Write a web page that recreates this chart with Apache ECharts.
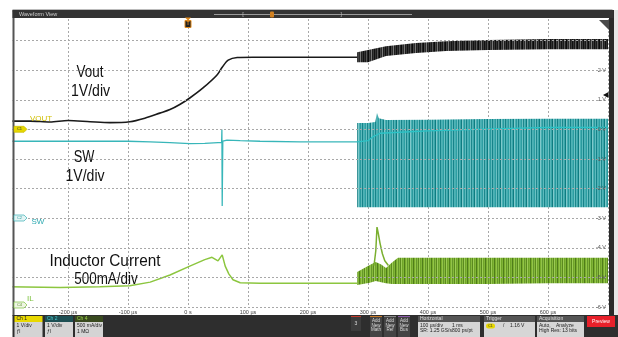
<!DOCTYPE html>
<html>
<head>
<meta charset="utf-8">
<script src="https://cdn.jsdelivr.net/npm/echarts@6/dist/echarts.min.js"></script>
<style>html,body{margin:0;padding:0;background:#fff}#c{width:618px;height:337px}</style>
</head>
<body>
<div id="c"></div>
<script>
// ---- time axis (µs) ----
const timeTicks = [-300,-200,-100,0,100,200,300,400,500,600,700];
const voltTicks = [-6,-5,-4,-3,-2,-1,0,1,2,3,4];

// ---- Ch1 Vout (V) ----
const voutT = [-300,-263,-230,-200,-163,-130,-97,-72,-47,-30,-13,3,25,48,57,67,82,108,187,282];
const voutV = [0.28,0.28,0.25,0.30,0.26,0.23,0.26,0.38,0.55,0.67,0.85,1.06,1.40,1.83,2.10,2.34,2.43,2.44,2.44,2.44];
const voutBandT  = [282,300,330,380,430,500,600,700];
const voutBandHi = [2.61,2.68,2.81,2.92,2.98,3.02,3.05,3.05];
const voutBandLo = [2.27,2.27,2.48,2.58,2.65,2.68,2.71,2.71];

// ---- Ch2 SW (V) ----
const swT = [-300,-100,-63,-30,3,28,50,56,56.5,57,58,65,87,120,187,282];
const swV = [2.60,2.60,2.58,2.55,2.52,2.53,2.55,2.55,3.00,0.41,2.60,2.64,2.62,2.60,2.58,2.58];
const swBandT  = [282,300,312,315,318,330,400,500,600,700];
const swBandHi = [3.22,3.22,3.25,3.55,3.38,3.32,3.33,3.35,3.36,3.36];
const swBandLo = [0.37,0.37,0.37,0.37,0.37,0.37,0.37,0.37,0.37,0.37];
const swMidT = [282,300,308,320,400,480,600,700];
const swMidV = [2.58,2.62,2.75,2.87,2.95,3.00,3.07,3.07];

// ---- Ch4 IL (A) ----
const ilT = [-300,-213,-147,-97,-63,-30,3,28,40,50,57,62,68,75,87,120,187,282];
const ilA = [0.34,0.33,0.34,0.36,0.42,0.54,0.69,0.80,0.84,0.78,0.88,0.69,0.56,0.46,0.41,0.40,0.40,0.40];
const ilBandT  = [282,303,313,322,330,340,350,400,500,600,700];
const ilBandHi = [0.59,0.71,0.76,0.72,0.66,0.75,0.83,0.83,0.83,0.83,0.83];
const ilBandLo = [0.37,0.41,0.44,0.42,0.40,0.39,0.39,0.39,0.39,0.40,0.40];
const ilSpikeT = [310,313,315,317,320,324,328,334];
const ilSpikeA = [0.70,0.95,1.35,1.25,1.08,0.90,0.78,0.70];

function pairs(T, V){ return T.map((t,i)=>[t, V[i]]); }
function stripes(colors){
  const c = document.createElement('canvas');
  c.width = colors.length; c.height = 4;
  const g = c.getContext('2d');
  colors.forEach((col,i)=>{ g.fillStyle = col; g.fillRect(i,0,1,4); });
  return c;
}
const tealPat  = {image: stripes(['#46aeb2','#2d9ea2','#6cc0c3','#1c878c','#55b5b8','#3aa6aa','#0f7c81','#7fc9cb','#48afb3','#2a9a9e','#5dbabd','#16838a','#4fb2b5']), repeat:'repeat'};
const blackPat = {image: stripes(['#111','#333','#1a1a1a','#555','#222','#0a0a0a','#444','#2a2a2a','#777','#1e1e1e','#3a3a3a']), repeat:'repeat'};
const greenPat = {image: stripes(['#78ac2c','#93c449','#66982a','#86b93b','#5b8a1f','#9ccb55','#70a528','#80b437','#4f7d1a']), repeat:'repeat'};

function band(T, hi, lo, yIdx, fill, z){
  return {
    type:'custom', xAxisIndex:0, yAxisIndex:yIdx, z:z, silent:true, clip:true,
    data:[[T[0], lo[0]]],
    renderItem:(params, api)=>{
      const pts = [];
      for (let i=0;i<T.length;i++) pts.push(api.coord([T[i], hi[i]]));
      for (let i=T.length-1;i>=0;i--) pts.push(api.coord([T[i], lo[i]]));
      return {type:'polygon', shape:{points:pts}, style:{fill:fill}};
    }
  };
}
function line(T, V, yIdx, color, w, z, smooth){
  return {type:'line', xAxisIndex:0, yAxisIndex:yIdx, data:pairs(T,V), showSymbol:false, symbol:'none',
    smooth:smooth||false, z:z, lineStyle:{color:color, width:w}, silent:true};
}

const chart = echarts.init(document.getElementById('c'), null, {renderer:'canvas'});
const F = 'Liberation Sans';
const small = {fontFamily:F, fontSize:5, fill:'#222'};
const g = [];
// masks & frame
g.push({type:'rect', shape:{x:0,y:0,width:12.5,height:337}, style:{fill:'#fff'}, z:50});
g.push({type:'rect', shape:{x:0,y:0,width:618,height:9.5}, style:{fill:'#fff'}, z:50});
g.push({type:'rect', shape:{x:12.5,y:9,width:600,height:1}, style:{fill:'#bbb'}, z:51});
g.push({type:'rect', shape:{x:12.5,y:10,width:2,height:306}, style:{fill:'#555'}, z:51});
g.push({type:'rect', shape:{x:609,y:10,width:5,height:306}, style:{fill:'#2a2a2a'}, z:51});
g.push({type:'rect', shape:{x:614,y:10,width:4,height:306}, style:{fill:'#e6e6e6'}, z:51});
// header
g.push({type:'rect', shape:{x:12.5,y:10,width:601,height:8}, style:{fill:'#333'}, z:52});
g.push({type:'text', x:19, y:14, style:{text:'Waveform View', fontFamily:F, fontSize:5.5, fill:'#cfcfcf', verticalAlign:'middle'}, z:53});
g.push({type:'line', shape:{x1:214,y1:14.5,x2:412,y2:14.5}, style:{stroke:'#9a9a9a', lineWidth:1}, z:53});
g.push({type:'text', x:243, y:14.5, style:{text:'[', fontFamily:F, fontSize:6, fill:'#bbb', align:'center', verticalAlign:'middle'}, z:53});
g.push({type:'text', x:341, y:14.5, style:{text:']', fontFamily:F, fontSize:6, fill:'#bbb', align:'center', verticalAlign:'middle'}, z:53});
g.push({type:'rect', shape:{x:270,y:11.5,width:4,height:6,r:1}, style:{fill:'#d08020'}, z:53});
// trigger T marker
g.push({type:'polygon', shape:{points:[[185,17.5],[191,17.5],[188,20.5]]}, style:{fill:'#e08a1e'}, z:53});
g.push({type:'rect', shape:{x:185,y:20.5,width:6,height:7}, style:{fill:'#222', stroke:'#e08a1e', lineWidth:1}, z:53});
g.push({type:'text', x:188, y:24, style:{text:'T', fontFamily:F, fontSize:5, fontWeight:'bold', fill:'#e08a1e', align:'center', verticalAlign:'middle'}, z:54});
// top right flag
g.push({type:'polygon', shape:{points:[[599,20],[609,20],[609,30]]}, style:{fill:'#4a4a4a'}, z:53});
// trigger level arrow
g.push({type:'polygon', shape:{points:[[603,95],[608.5,92],[608.5,98]]}, style:{fill:'#111'}, z:53});
// channel badges
function badge(y, fill, stroke, txt, tcol){
  g.push({type:'polygon', shape:{points:[[14,y-3],[24,y-3],[27,y],[24,y+3],[14,y+3]]}, style:{fill:fill, stroke:stroke, lineWidth:0.7}, z:53});
  g.push({type:'text', x:19.5, y:y, style:{text:txt, fontFamily:F, fontSize:4, fill:tcol, align:'center', verticalAlign:'middle'}, z:54});
}
badge(129.3, '#e6d700', '#c9bb00', 'C1', '#333');
badge(218, '#e3f4f4', '#3ab0b4', 'C2', '#2a9ca0');
badge(305, '#eef5e3', '#7cc13e', 'C4', '#5a8f2a');
g.push({type:'text', x:30, y:119, style:{text:'VOUT', fontFamily:F, fontSize:8, fill:'#d0bf00', verticalAlign:'middle'}, z:53});
g.push({type:'text', x:31.5, y:221.5, style:{text:'SW', fontFamily:F, fontSize:8, fill:'#2aa8b0', verticalAlign:'middle'}, z:53});
g.push({type:'text', x:27, y:299, style:{text:'IL', fontFamily:F, fontSize:8, fill:'#7cc13e', verticalAlign:'middle'}, z:53});
// annotations
function ann(x, y, t, sx){ g.push({type:'text', x:x, y:y, scaleX:sx, style:{text:t, fontFamily:F, fontSize:16, fill:'#111', align:'center', verticalAlign:'middle'}, z:55}); }
ann(90, 72.5, 'Vout', 0.84); ann(90.5, 91.5, '1V/div', 0.88);
ann(84, 158, 'SW', 0.8); ann(85, 176.5, '1V/div', 0.88);
ann(105, 262, 'Inductor Current', 0.96); ann(106, 279.5, '500mA/div', 0.84);
// bottom panel
g.push({type:'rect', shape:{x:12.5,y:315,width:605.5,height:22}, style:{fill:'#2e2e2e'}, z:60});
function chBox(x, w, hfill, htxt, hcol, lines){
  g.push({type:'rect', shape:{x:x,y:316,width:w,height:6}, style:{fill:hfill}, z:61});
  g.push({type:'text', x:x+2, y:319, style:{text:htxt, fontFamily:F, fontSize:5, fill:hcol, verticalAlign:'middle'}, z:62});
  g.push({type:'rect', shape:{x:x,y:322,width:w,height:15}, style:{fill:'#d4d4d4'}, z:61});
  lines.forEach((t,i)=>g.push({type:'text', x:x+2, y:326+i*5.5, style:Object.assign({}, small, {text:t, verticalAlign:'middle'}), z:62}));
}
chBox(14.5, 28, '#e8d800', 'Ch 1', '#222', ['1 V/div','ƒl']);
chBox(45, 28, '#1d4f53', 'Ch 2', '#4cc8cc', ['1 V/div','ƒl']);
chBox(75, 28, '#394a1f', 'Ch 4', '#9bd24a', ['500 mA/div','1 MΩ']);
g.push({type:'rect', shape:{x:351,y:316,width:10,height:15}, style:{fill:'#3c3c3c'}, z:61});
g.push({type:'rect', shape:{x:351,y:316,width:10,height:1}, style:{fill:'#c0392b'}, z:62});
g.push({type:'text', x:356, y:324, style:{text:'3', fontFamily:F, fontSize:5, fill:'#ddd', align:'center', verticalAlign:'middle'}, z:62});
[[370,'#c87a2a','Math'],[384,'#888','Ref'],[398,'#8a5aa8','Bus']].forEach(a=>{
  g.push({type:'rect', shape:{x:a[0],y:316,width:12,height:21}, style:{fill:'#444'}, z:61});
  g.push({type:'rect', shape:{x:a[0],y:316,width:12,height:1}, style:{fill:a[1]}, z:62});
  ['Add','New',a[2]].forEach((t,i)=>g.push({type:'text', x:a[0]+6, y:320.5+i*4.8, style:{text:t, fontFamily:F, fontSize:4.5, fill:'#ddd', align:'center', verticalAlign:'middle'}, z:62}));
});
function infoBox(x, w, title, rows){
  g.push({type:'rect', shape:{x:x,y:316,width:w,height:6}, style:{fill:'#555'}, z:61});
  g.push({type:'text', x:x+2, y:319, style:{text:title, fontFamily:F, fontSize:5, fill:'#e0e0e0', verticalAlign:'middle'}, z:62});
  g.push({type:'rect', shape:{x:x,y:322,width:w,height:15}, style:{fill:'#d6d6d6'}, z:61});
  rows.forEach(r=>g.push({type:'text', x:x+r[0], y:r[1], style:Object.assign({}, small, {text:r[2], verticalAlign:'middle'}), z:62}));
}
infoBox(418, 62, 'Horizontal', [[2,326,'100 µs/div'],[34,326,'1 ms'],[2,331,'SR: 1.25 GS/s'],[34,331,'800 ps/pt']]);
infoBox(484, 51, 'Trigger', [[19,326,'/'],[26,326,'1.16 V']]);
g.push({type:'rect', shape:{x:486,y:323.5,width:9,height:5,r:2.5}, style:{fill:'#e6d700'}, z:63});
g.push({type:'text', x:490.5, y:326, style:{text:'C1', fontFamily:F, fontSize:3.5, fill:'#333', align:'center', verticalAlign:'middle'}, z:64});
infoBox(537, 47, 'Acquisition', [[2,326,'Auto,'],[19,326,'Analyze'],[2,331,'High Res: 13 bits']]);
g.push({type:'rect', shape:{x:587,y:316,width:28,height:11}, style:{fill:'#e8202a'}, z:61});
g.push({type:'text', x:601, y:321.5, style:{text:'Preview', fontFamily:F, fontSize:5, fill:'#fff', align:'center', verticalAlign:'middle'}, z:62});

const dash = {type:[2,2], color:'#a8a8a8', width:1};
chart.setOption({
  animation:false,
  backgroundColor:'#ffffff',
  grid:{left:8, right:10, top:11, bottom:30},
  xAxis:{type:'value', min:timeTicks[0], max:timeTicks[timeTicks.length-1], interval:100,
    axisLine:{show:false}, axisTick:{show:false},
    splitLine:{show:true, lineStyle:dash},
    axisLabel:{fontFamily:F, fontSize:5.5, color:'#444', margin:2,
      formatter:v=> (v===timeTicks[0]||v===timeTicks[timeTicks.length-1]) ? '' : (v===0 ? '0 s' : v+' µs')}},
  yAxis:[
    {type:'value', min:voltTicks[0], max:voltTicks[voltTicks.length-1], interval:1, position:'right',
      axisLine:{show:false}, axisTick:{show:false}, splitLine:{show:true, lineStyle:dash}, z:20,
      axisLabel:{inside:true, fontFamily:F, fontSize:5.5, color:'#555', margin:2,
        formatter:v=> v>2 ? '' : v+' V'}},
    {type:'value', min:-3, max:7, show:false, splitLine:{show:false}},
    {type:'value', min:0, max:5, show:false, splitLine:{show:false}}
  ],
  graphic:g,
  series:[
    band(ilBandT, ilBandHi, ilBandLo, 2, greenPat, 3),
    line(ilT, ilA, 2, '#8cc63f', 1.5, 4, false),
    line(ilSpikeT, ilSpikeA, 2, '#7aaf2f', 1.5, 4, false),
    band(swBandT, swBandHi, swBandLo, 1, tealPat, 5),
    line(swT, swV, 1, '#38b6b9', 1.3, 6, false),
    line(swMidT, swMidV, 1, '#2cc3c6', 1.3, 6, false),
    band(voutBandT, voutBandHi, voutBandLo, 0, blackPat, 7),
    line(voutT, voutV, 0, '#1a1a1a', 1.6, 8, 0.3)
  ]
});
</script>
</body>
</html>
